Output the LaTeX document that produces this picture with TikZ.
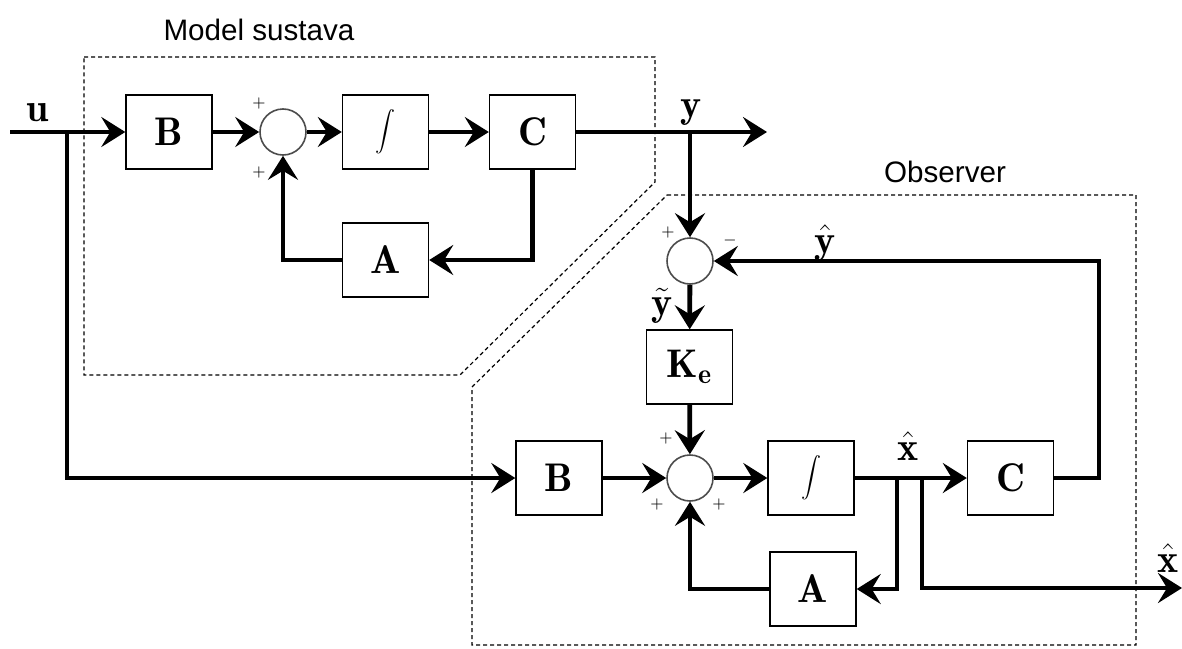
\RequirePackage{fix-cm}
\documentclass[tikz,border=0pt]{standalone}
\usepackage{fontspec}
\newfontfamily\arialfont{Liberation Sans}
\usetikzlibrary{positioning, arrows.meta}

\begin{document}
\begin{tikzpicture}[
    x=0.5pt, y=-0.5pt,
    block/.style={
        rectangle,
        draw=black,
        line width=0.7pt,
        minimum width=43pt,
        minimum height=37pt,
        inner sep=0pt,
        font=\fontsize{20}{24}\selectfont
    },
    intblock/.style={
        block,
        font=\fontsize{12}{14}\selectfont
    },
    sumnode/.style={
        circle,
        draw=black!70,
        line width=0.8pt,
        minimum size=23pt,
        inner sep=0pt
    },
    arrow/.style={
        line width=2.4pt,
        -{Stealth[length=12pt, width=15pt, inset=4.5pt]}
    },
    frame/.style={
        dash pattern=on 2pt off 1.5pt,
        line width=0.6pt,
        draw=black
    },
    sig/.style={font=\fontsize{20}{24}\selectfont},
    sign/.style={font=\fontsize{8}{9}\selectfont, inner sep=0pt},
    title/.style={font=\arialfont\fontsize{14.8}{17}\selectfont}
]
\useasboundingbox (0,0) rectangle (1182,648);

% Frames
\draw[frame] (84,57) -- (655,57) -- (655,182) -- (460,375) -- (84,375) -- cycle;
\draw[frame] (667,195) -- (1136,195) -- (1136,645) -- (472,645) -- (472,387) -- cycle;
\node[title] (modeltitle) at (259,30) {Model sustava};
\node[title] (obstitle) at (945,172) {Observer};

% Nodes (model)
\node[block] (B1) at (169,132) {$\mathbf{B}$};
\node[sumnode] (sum1) at (283,132) {};
\node[intblock] (int1) at (385.5,132) {$\displaystyle\int$};
\node[block] (C1) at (532.5,132) {$\mathbf{C}$};
\node[block] (A1) at (385.5,260) {$\mathbf{A}$};

% Nodes (observer)
\node[sumnode] (sum2) at (690,261) {};
\node[block] (Ke) at (689.5,367) {$\mathbf{K}_{\mathbf{e}}$};
\node[sumnode] (sum3) at (690,478) {};
\node[block] (B2) at (559,478) {$\mathbf{B}$};
\node[intblock] (int2) at (811,478) {$\displaystyle\int$};
\node[block] (C2) at (1010.5,478) {$\mathbf{C}$};
\node[block] (A2) at (813,589) {$\mathbf{A}$};

% Branch points
\coordinate (uin) at (10,132);
\coordinate (ubranch) at (67,132);
\coordinate (yout) at (767,132);
\coordinate (ybranch) at (690,132);
\coordinate (yhatcorner) at (1099,261);
\coordinate (xbranchA) at (897,478);
\coordinate (xbranchB) at (922,478);
\coordinate (xout) at (1182,588);

% Arrows (model)
\draw[arrow] (uin) -- (B1);
\draw[arrow] (B1) -- (sum1);
\draw[arrow] (sum1) -- (int1);
\draw[arrow] (int1) -- (C1);
\draw[arrow] (C1) -- (yout);
\draw[arrow] (C1.south) |- (A1.east);
\draw[arrow] (A1.west) -| (sum1.south);

% Arrows (observer)
\draw[arrow] (ubranch) |- (B2.west);
\draw[arrow] (ybranch) -- (sum2);
\draw[arrow] (sum2) -- (Ke);
\draw[arrow] (Ke) -- (sum3);
\draw[arrow] (B2) -- (sum3);
\draw[arrow] (sum3) -- (int2);
\draw[arrow] (int2) -- (C2);
\draw[arrow] (C2.east) -| (yhatcorner) -- (sum2.east);
\draw[arrow] (xbranchA) |- (A2.east);
\draw[arrow] (A2.west) -| (sum3.south);
\draw[arrow] (xbranchB) |- (xout);

% Signal labels
\node[sig] (ulabel) at (38,113) {$\mathbf{u}$};
\node[sig] (ylabel) at (691,113) {$\mathbf{y}$};
\node[sig] (yhatlabel) at (825,243) {$\hat{\mathbf{y}}$};
\node[sig] (ytildelabel) at (662,306) {$\tilde{\mathbf{y}}$};
\node[sig] (xhatlabel) at (908,446) {$\hat{\mathbf{x}}$};
\node[sig] (xoutlabel) at (1168,558) {$\hat{\mathbf{x}}$};

% Signs
\node[sign] (s1a) at (259,103) {$+$};
\node[sign] (s1b) at (259,172) {$+$};
\node[sign] (s2a) at (668,232) {$+$};
\node[sign] (s2b) at (730,240) {$-$};
\node[sign] (s3a) at (666,438) {$+$};
\node[sign] (s3b) at (657,504) {$+$};
\node[sign] (s3c) at (719,504) {$+$};
\end{tikzpicture}
\end{document}
